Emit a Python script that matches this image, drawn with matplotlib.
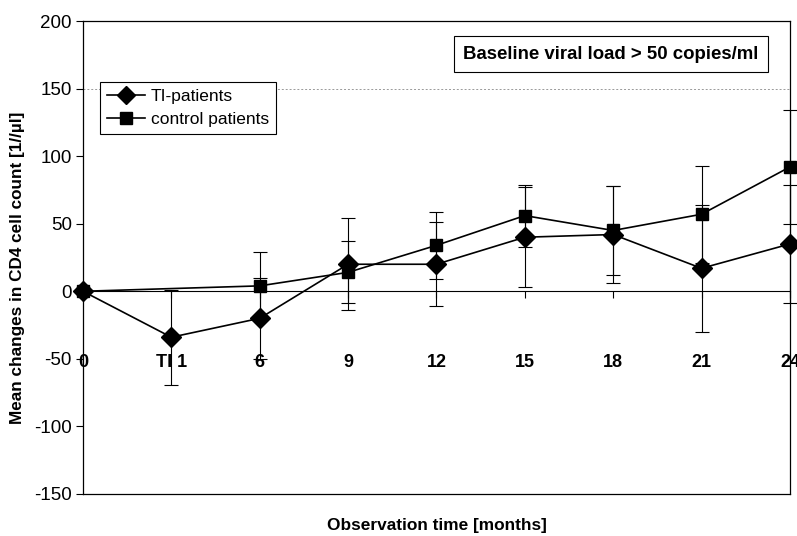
import numpy as np
import matplotlib
matplotlib.use("Agg")
import matplotlib.pyplot as plt

plt.rcParams['font.family'] = ['Liberation Sans', 'DejaVu Sans']

categories = ["0", "TI 1", "6", "9", "12", "15", "18", "21", "24"]
ti_mean = [0, -34, -20, 20, 20, 40, 42, 17, 35]
ti_err = [0, 35, 30, 34, 31, 37, 36, 47, 44]
ctrl_mean = [0, None, 4, 14, 34, 56, 45, 57, 92]
ctrl_err = [0, None, 25, 23, 25, 23, 33, 36, 42]
y_ticks = [-150, -100, -50, 0, 50, 100, 150, 200]

fig = plt.figure(figsize=(7.97, 5.36), dpi=100)
ax = fig.add_axes([0.1041, 0.0784, 0.887, 0.8824])

x = np.arange(len(categories))
ti_m = np.array(ti_mean, dtype=float)
ti_e = np.array(ti_err, dtype=float)
c_m = np.array([np.nan if v is None else v for v in ctrl_mean], dtype=float)
c_e = np.array([np.nan if v is None else v for v in ctrl_err], dtype=float)
cv = ~np.isnan(c_m)

# gridline at 150
ax.axhline(150, color='#999999', linestyle=(0, (2, 2)), linewidth=0.7, zorder=0)

# error bars
ax.errorbar(x[1:], ti_m[1:], yerr=ti_e[1:], fmt='none', ecolor='black',
            elinewidth=0.8, capsize=5, capthick=0.8, zorder=2, clip_on=False)
ax.errorbar(x[cv][1:], c_m[cv][1:], yerr=c_e[cv][1:], fmt='none', ecolor='black',
            elinewidth=0.8, capsize=5, capthick=0.8, zorder=2, clip_on=False)

l1, = ax.plot(x, ti_m, color='black', linewidth=1.2, marker='D', markersize=10,
              label='TI-patients', zorder=3, clip_on=False)
l2, = ax.plot(x[cv], c_m[cv], color='black', linewidth=1.2, marker='s', markersize=9,
              label='control patients', zorder=3, clip_on=False)

ax.set_xlim(0, 8)
ax.set_ylim(-150, 200)
ax.set_yticks(y_ticks)
ax.set_yticklabels([str(v) for v in y_ticks], fontsize=13.5)
ax.tick_params(axis='y', direction='out', length=5, width=0.8, pad=3)

# x axis at zero
ax.spines['bottom'].set_position(('data', 0))
ax.spines['bottom'].set_linewidth(0.8)
for s in ['left', 'right', 'top']:
    ax.spines[s].set_linewidth(0.9)
ax.axhline(-150, color='black', linewidth=0.9, clip_on=False)
ax.set_xticks(x)
ax.set_xticklabels(categories, fontsize=13, fontweight='bold')
ax.tick_params(axis='x', direction='out', length=5, width=0.8, pad=40.5)

ax.set_ylabel("Mean changes in CD4 cell count [1//\u00b5l]", fontsize=12.3, fontweight='bold')
ax.yaxis.set_label_coords(-0.082, 0.478)
fig.text(0.548, 0.0205, "Observation time [months]", fontsize=12.4, fontweight='bold',
         ha='center', va='center')

leg = ax.legend(handles=[l1, l2], loc='upper left', bbox_to_anchor=(0.024, 0.871),
                borderaxespad=0, fancybox=False, edgecolor='black', framealpha=1,
                fontsize=12.5, handlelength=2.2, handletextpad=0.3, borderpad=0.42,
                labelspacing=0.42)
leg.get_frame().set_linewidth(0.8)
leg.legend_handles[0].set_markersize(9)
leg.legend_handles[1].set_markersize(8)

ax.text(0.747, 0.930, "Baseline viral load > 50 copies/ml", transform=ax.transAxes,
        ha='center', va='center', fontsize=13.4, fontweight='bold',
        bbox=dict(boxstyle='square,pad=0.5', facecolor='white', edgecolor='black', linewidth=0.8))

fig.savefig("out.png", dpi=100)
